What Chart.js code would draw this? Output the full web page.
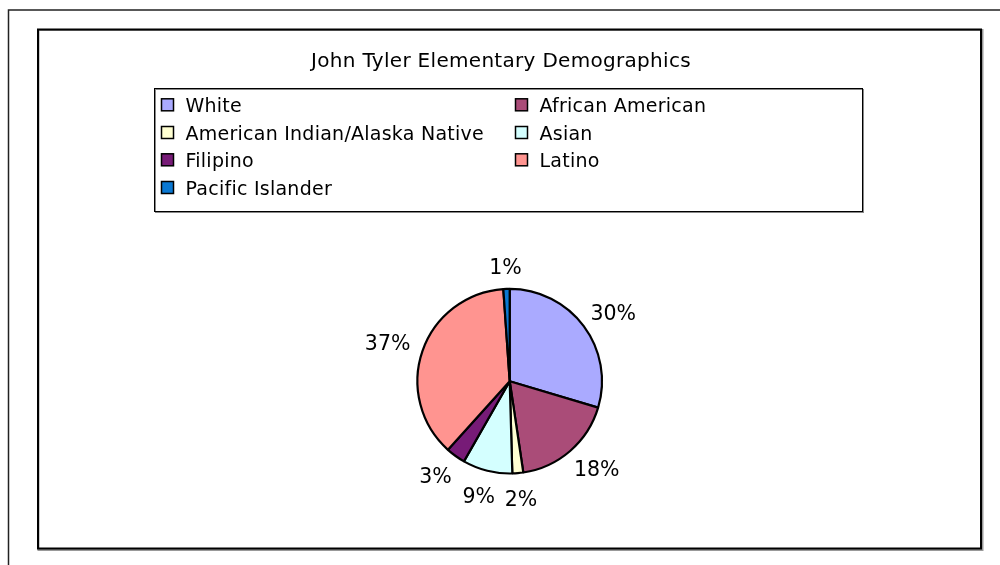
<!DOCTYPE html>
<html>
<head>
<meta charset="utf-8">
<script src="https://cdn.jsdelivr.net/npm/chart.js@4/dist/chart.umd.min.js"></script>
<style>
  html, body { margin: 0; padding: 0; background: #fff; }
  #wrap { width: 1000px; height: 565px; position: relative; }
</style>
</head>
<body>
<div id="wrap"><canvas id="c" width="1000" height="565"></canvas></div>
<script>
// ---- data ----
const title = "John Tyler Elementary Demographics";
const categories = ["White", "African American", "American Indian/Alaska Native", "Asian", "Filipino", "Latino", "Pacific Islander"];
const values = [29.6, 18.0, 1.9, 8.7, 3.4, 37.2, 1.1];
const colors = ["#AAAAFF", "#AA4C78", "#FFFFD2", "#D4FFFF", "#771B77", "#FF9490", "#0A78D2"];

const FONT = '"DejaVu Sans", Verdana, sans-serif';

const framePlugin = {
  id: 'frame',
  beforeDraw(chart) {
    const ctx = chart.ctx;
    ctx.save();
    ctx.fillStyle = '#fff';
    ctx.fillRect(0, 0, chart.width, chart.height);
    // outer frame (extends past the window)
    ctx.strokeStyle = '#222';
    ctx.lineWidth = 1.5;
    ctx.beginPath();
    ctx.moveTo(8.5, 1000); ctx.lineTo(8.5, 10); ctx.lineTo(1100, 10);
    ctx.stroke();
    // inner plot box
    ctx.strokeStyle = '#999';
    ctx.lineWidth = 2;
    ctx.strokeRect(38.5, 30, 944, 520);
    ctx.strokeStyle = '#000';
    ctx.strokeRect(38, 29.5, 943, 519);
    // title
    ctx.fillStyle = '#000';
    ctx.font = '20px ' + FONT;
    ctx.letterSpacing = '0.3px';
    ctx.textAlign = 'center';
    ctx.textBaseline = 'alphabetic';
    ctx.fillText(title, 501, 66.5);
    ctx.restore();
  },
  afterDraw(chart) {
    const ctx = chart.ctx;
    ctx.save();
    // legend box
    ctx.strokeStyle = '#888';
    ctx.lineWidth = 1;
    ctx.strokeRect(155.5, 89.5, 708, 123);
    ctx.strokeStyle = '#000';
    ctx.strokeRect(154.5, 88.5, 708, 123);
    const colX = [161, 515];
    const rowBase = [112.3, 140, 167.3, 195];
    const ds = chart.data.datasets[0];
    ctx.font = '19px ' + FONT;
    ctx.letterSpacing = '0.25px';
    ctx.textAlign = 'left';
    ctx.textBaseline = 'alphabetic';
    chart.data.labels.forEach((lab, i) => {
      const col = i % 2, row = Math.floor(i / 2);
      const x = colX[col], yb = rowBase[row];
      ctx.fillStyle = ds.backgroundColor[i];
      ctx.fillRect(x + 0.5, yb - 13.5, 12, 12);
      ctx.strokeStyle = '#000';
      ctx.lineWidth = 1.5;
      ctx.strokeRect(x + 0.5, yb - 13.5, 12, 12);
      ctx.fillStyle = '#000';
      ctx.fillText(lab, x + 24.5, yb);
    });
    // percentage labels outside slices
    const meta = chart.getDatasetMeta(0);
    const total = ds.data.reduce((a, b) => a + b, 0);
    ctx.font = '20.5px ' + FONT;
    ctx.letterSpacing = '0px';
    ctx.textAlign = 'center';
    ctx.textBaseline = 'middle';
    meta.data.forEach((arc, i) => {
      const p = arc.getProps(['x', 'y', 'startAngle', 'endAngle', 'outerRadius'], true);
      const mid = (p.startAngle + p.endAngle) / 2;
      const cx = Math.cos(mid), cy = Math.sin(mid);
      const txt = Math.round(ds.data[i] / total * 100) + '%';
      const w = ctx.measureText(txt).width, h = 15;
      const R = p.outerRadius + 14 + 5 * Math.max(0, cy);
      const lx = p.x + cx * R + cx * w / 2;
      const ly = p.y + cy * R + cy * h / 2;
      ctx.fillStyle = '#000';
      ctx.fillText(txt, lx, ly + 1);
    });
    ctx.restore();
  }
};

new Chart(document.getElementById('c'), {
  type: 'pie',
  data: {
    labels: categories,
    datasets: [{
      data: values,
      backgroundColor: colors,
      borderColor: '#000',
      borderWidth: 2.2
    }]
  },
  options: {
    responsive: false,
    animation: false,
    radius: 92.3,
    layout: { padding: { left: 409.7, right: 390.3, top: 281.2, bottom: 83.8 } },
    plugins: {
      legend: { display: false },
      title: { display: false },
      tooltip: { enabled: false }
    }
  },
  plugins: [framePlugin]
});
</script>
</body>
</html>
